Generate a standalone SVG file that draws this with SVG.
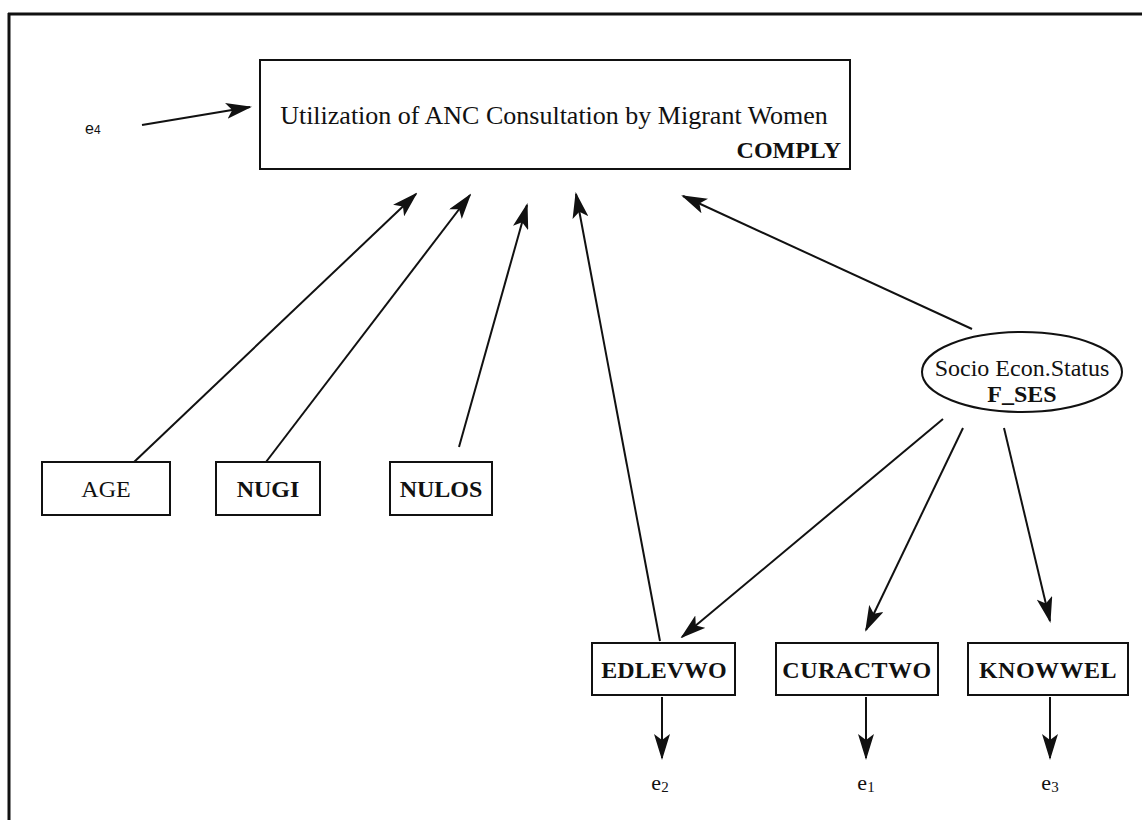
<svg xmlns="http://www.w3.org/2000/svg" width="1142" height="820" viewBox="0 0 1142 820">
  <style>
    .box { fill: #fff; stroke: #111; stroke-width: 2; }
    .lbl { font-family: "Liberation Serif", "Times New Roman", serif; font-size: 24px; fill: #111; text-anchor: middle; }
    .title { font-size: 26px; }
    .b { font-weight: bold; }
    .err { font-family: "Liberation Serif", "Times New Roman", serif; font-size: 22px; fill: #111; text-anchor: middle; }
    .sub { font-size: 15px; }
    .edge { stroke: #111; stroke-width: 2; fill: none; marker-end: url(#head); }
  </style>
  <defs>
    <marker id="head" viewBox="0 0 26 16" refX="24" refY="8" markerWidth="26" markerHeight="16" markerUnits="userSpaceOnUse" orient="auto">
      <path d="M0,0 L26,8 L0,16 L6,8 Z" fill="#111"/>
    </marker>
  </defs>
  <rect width="1142" height="820" fill="#fff"/>

  <!-- page frame: only the top and left rules fall inside the sheet -->
  <g id="frame" stroke="#111" stroke-width="3">
    <line x1="8" y1="14" x2="1142" y2="14"/>
    <line x1="9" y1="13" x2="9" y2="820"/>
  </g>

  <!-- connectors -->
  <g id="connectors">
    <line class="edge" x1="142" y1="125" x2="250" y2="107"/>
    <line class="edge" x1="133" y1="463" x2="416" y2="194"/>
    <line class="edge" x1="266" y1="462" x2="470" y2="195"/>
    <line class="edge" x1="459" y1="447" x2="527" y2="205"/>
    <line class="edge" x1="660" y1="641" x2="576" y2="194"/>
    <line class="edge" x1="972" y1="329" x2="683" y2="196"/>
    <line class="edge" x1="943" y1="419" x2="682" y2="637"/>
    <line class="edge" x1="963" y1="428" x2="866" y2="630"/>
    <line class="edge" x1="1004" y1="428" x2="1050" y2="621"/>
    <line class="edge" x1="662" y1="697" x2="662" y2="758"/>
    <line class="edge" x1="866" y1="697" x2="866" y2="758"/>
    <line class="edge" x1="1050" y1="697" x2="1050" y2="758"/>
  </g>

  <g id="e4"><text x="85" y="134" font-family="Liberation Sans, Arial, sans-serif" font-size="16" fill="#111">e<tspan font-size="12">4</tspan></text></g>

  <g id="comply">
    <rect class="box" x="260" y="60" width="590" height="109"/>
    <text class="lbl title" x="554" y="124">Utilization of ANC Consultation by Migrant Women</text>
    <text class="lbl b" x="841" y="158" style="text-anchor:end">COMPLY</text>
  </g>

  <g id="age">
    <rect class="box" x="42" y="462" width="128" height="53"/>
    <text class="lbl" x="106" y="497">AGE</text>
  </g>
  <g id="nugi">
    <rect class="box" x="216" y="462" width="104" height="53"/>
    <text class="lbl b" x="268" y="497">NUGI</text>
  </g>
  <g id="nulos">
    <rect class="box" x="390" y="462" width="102" height="53"/>
    <text class="lbl b" x="441" y="497">NULOS</text>
  </g>

  <g id="f_ses">
    <ellipse class="box" cx="1022" cy="372" rx="100" ry="40"/>
    <text class="lbl" x="1022" y="376">Socio Econ.Status</text>
    <text class="lbl b" x="1022" y="402">F_SES</text>
  </g>

  <g id="edlevwo">
    <rect class="box" x="592" y="643" width="143" height="52"/>
    <text class="lbl b" x="664" y="678">EDLEVWO</text>
  </g>
  <g id="curactwo">
    <rect class="box" x="776" y="643" width="162" height="52"/>
    <text class="lbl b" x="857" y="678" letter-spacing="0.5">CURACTWO</text>
  </g>
  <g id="knowwel">
    <rect class="box" x="968" y="643" width="160" height="52"/>
    <text class="lbl b" x="1048" y="678" letter-spacing="0.5">KNOWWEL</text>
  </g>

  <g id="e2"><text class="err" x="660" y="790">e<tspan class="sub" dy="2">2</tspan></text></g>
  <g id="e1"><text class="err" x="866" y="790">e<tspan class="sub" dy="2">1</tspan></text></g>
  <g id="e3"><text class="err" x="1050" y="790">e<tspan class="sub" dy="2">3</tspan></text></g>
</svg>
